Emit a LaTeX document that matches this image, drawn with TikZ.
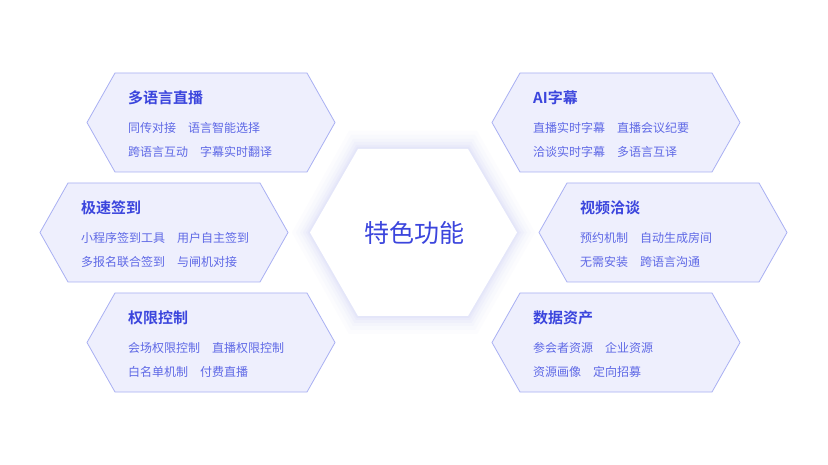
\documentclass[tikz,border=0pt]{standalone}
\usepackage{fontspec}
\newfontfamily\cjk{Noto Sans CJK SC}
\newfontfamily\cjkb{Noto Sans CJK SC Bold}
\definecolor{hfill}{HTML}{EEEFFD}
\definecolor{hedge}{HTML}{A9B0F3}
\definecolor{ttl}{HTML}{3B45DD}
\definecolor{itm}{HTML}{5F69E6}
\definecolor{glow}{HTML}{C8CCF8}
\tikzset{x=1pt,y=-1pt,
 ttlstyle/.style={anchor=west,text=ttl,font=\cjkb\fontsize{15}{15}\selectfont,inner sep=0},
 itmstyle/.style={anchor=west,text=itm,font=\cjk\fontsize{12}{12}\selectfont,inner sep=0},
 hexbox/.style={fill=hfill,draw=hedge,line width=0.8pt}}
\newcommand\hexat[2]{% left x, top y
 \path[hexbox] (#1,#2+49.5) -- (#1+28,#2) -- (#1+220,#2) -- (#1+248,#2+49.5) -- (#1+220,#2+99) -- (#1+28,#2+99) -- cycle;}
\newcommand\hexitems[6]{% x y name title item1 item2 (ro ws)
}
\begin{document}
\begin{tikzpicture}
\useasboundingbox (0,0) rectangle (828,465);
\fill[white] (0,0) rectangle (828,465);
% glow
\foreach \g/\o in {18/0.05,14/0.06,10/0.08,7/0.1,4/0.12,2/0.15}{
 \fill[glow,opacity=\o] (310-\g,232.5) -- (358-\g*0.5,149-\g) -- (468+\g*0.5,149-\g) -- (517+\g,232.5) -- (468+\g*0.5,316+\g) -- (358-\g*0.5,316+\g) -- cycle;}
\hexat{87}{73}\hexat{40}{183}\hexat{87}{293}
\hexat{492}{73}\hexat{539}{183}\hexat{492}{293}
\fill[white] (310,232.5) -- (358,149) -- (468,149) -- (517,232.5) -- (468,316) -- (358,316) -- cycle;
\node[text=ttl,font=\cjk\fontsize{25}{25}\selectfont,inner sep=0] (c) at (414,233) {特色功能};
% left top
\node[ttlstyle] (t1) at (128,98) {多语言直播};
\node[itmstyle] (a1) at (128,128) {同传对接\quad 语言智能选择};
\node[itmstyle] (b1) at (128,152) {跨语言互动\quad 字幕实时翻译};
\node[ttlstyle] (t2) at (81,208) {极速签到};
\node[itmstyle] (a2) at (81,238) {小程序签到工具\quad 用户自主签到};
\node[itmstyle] (b2) at (81,262) {多报名联合签到\quad 与闸机对接};
\node[ttlstyle] (t3) at (128,318) {权限控制};
\node[itmstyle] (a3) at (128,348) {会场权限控制\quad 直播权限控制};
\node[itmstyle] (b3) at (128,372) {白名单机制\quad 付费直播};
\node[ttlstyle] (t4) at (533,98) {AI字幕};
\node[itmstyle] (a4) at (533,128) {直播实时字幕\quad 直播会议纪要};
\node[itmstyle] (b4) at (533,152) {洽谈实时字幕\quad 多语言互译};
\node[ttlstyle] (t5) at (580,208) {视频洽谈};
\node[itmstyle] (a5) at (580,238) {预约机制\quad 自动生成房间};
\node[itmstyle] (b5) at (580,262) {无需安装\quad 跨语言沟通};
\node[ttlstyle] (t6) at (533,318) {数据资产};
\node[itmstyle] (a6) at (533,348) {参会者资源\quad 企业资源};
\node[itmstyle] (b6) at (533,372) {资源画像\quad 定向招募};
\end{tikzpicture}
\end{document}
